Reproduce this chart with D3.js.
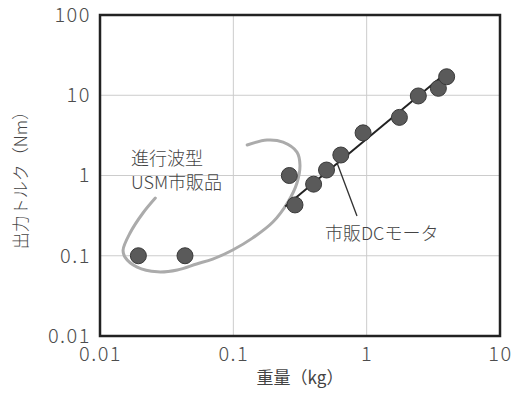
<!DOCTYPE html>
<html><head><meta charset="utf-8">
<script src="https://cdn.jsdelivr.net/npm/d3@7"></script>
<style>
html,body{margin:0;padding:0;background:#fff;}
svg{display:block;}
text{font-family:"Noto Sans CJK JP","Noto Sans",sans-serif;}
</style></head>
<body><svg id="c" width="521" height="399"></svg>
<script>
// ---- data ----
const xTicks = [0.01, 0.1, 1, 10];
const xTickLabels = ["0.01", "0.1", "1", "10"];
const yTicks = [0.01, 0.1, 1, 10, 100];
const yTickLabels = ["0.01", "0.1", "1", "10", "100"];
const usmWeight = [0.0194, 0.0434];
const usmTorque = [0.1, 0.1];
const dcWeight = [0.263, 0.29, 0.40, 0.50, 0.64, 0.94, 1.76, 2.44, 3.45, 3.98];
const dcTorque = [1.0, 0.43, 0.78, 1.17, 1.8, 3.4, 5.3, 9.8, 12.2, 17.0];
const fitWeight = [0.245, 3.8];
const fitTorque = [0.41, 18];
const ellipseWeight = [0.127,0.179,0.236,0.300,0.316,0.300,0.257,0.198,0.140,0.099,0.070,0.053,0.038,0.027,0.019,0.0154,0.0149,0.0168,0.021,0.026];
const ellipseTorque = [2.40,2.77,2.61,1.96,1.35,0.806,0.468,0.263,0.167,0.118,0.091,0.079,0.0665,0.063,0.072,0.096,0.118,0.192,0.341,0.524];
const leaderWeight = [0.60, 0.846];
const leaderTorque = [1.43, 0.313];
const xTitle = "重量（kg）";
const yTitle = "出力トルク（Nm）";
const usmLabel = ["進行波型", "USM市販品"];
const dcLabel = "市販DCモータ";

// ---- layout ----
const L = 100, R = 500, T = 15, B = 336;
const svg = d3.select("#c");
const x = d3.scaleLog().domain([0.01, 10]).range([L, R]);
const y = d3.scaleLog().domain([0.01, 100]).range([B, T]);

// grid
const grid = svg.append("g").attr("stroke", "#cccccc").attr("stroke-width", 1);
grid.selectAll("line.gx").data(xTicks.slice(1, -1)).join("line")
  .attr("x1", d => x(d)).attr("x2", d => x(d)).attr("y1", T).attr("y2", B);
grid.selectAll("line.gy").data(yTicks.slice(1, -1)).join("line")
  .attr("y1", d => y(d)).attr("y2", d => y(d)).attr("x1", L).attr("x2", R);

// axes (labels only)
const xAxis = d3.axisBottom(x).tickValues(xTicks).tickFormat((d, i) => xTickLabels[i]).tickSize(0).tickPadding(11);
const gx = svg.append("g").attr("transform", `translate(0,${B})`).call(xAxis);
gx.select(".domain").remove();
gx.selectAll("text").attr("font-size", 20).attr("fill", "#4d4d4d").attr("font-weight", 300)
  .style("font-family", '"Noto Sans CJK JP"').attr("letter-spacing", 1.5);

const yAxis = d3.axisLeft(y).tickValues(yTicks).tickFormat((d, i) => yTickLabels[i]).tickSize(0).tickPadding(9);
const gy = svg.append("g").attr("transform", `translate(${L},0)`).call(yAxis);
gy.select(".domain").remove();
gy.selectAll("text").attr("font-size", 20).attr("fill", "#4d4d4d").attr("font-weight", 300)
  .style("font-family", '"Noto Sans CJK JP"').attr("letter-spacing", 1.5);

// ellipse annotation
const ellPts = ellipseWeight.map((w, i) => [x(w), y(ellipseTorque[i])]);
svg.append("path").attr("d", d3.line().curve(d3.curveCatmullRom)(ellPts))
  .attr("fill", "none").attr("stroke", "#ababab").attr("stroke-width", 3).attr("stroke-linecap", "round");

// fit line
svg.append("line")
  .attr("x1", x(fitWeight[0])).attr("y1", y(fitTorque[0]))
  .attr("x2", x(fitWeight[1])).attr("y2", y(fitTorque[1]))
  .attr("stroke", "#222").attr("stroke-width", 2);

// leader line
svg.append("line")
  .attr("x1", x(leaderWeight[0])).attr("y1", y(leaderTorque[0]))
  .attr("x2", x(leaderWeight[1])).attr("y2", y(leaderTorque[1]))
  .attr("stroke", "#333").attr("stroke-width", 1.3);

// points
const pts = usmWeight.map((w, i) => [w, usmTorque[i]]).concat(dcWeight.map((w, i) => [w, dcTorque[i]]));
svg.append("g").selectAll("circle").data(pts).join("circle")
  .attr("cx", d => x(d[0])).attr("cy", d => y(d[1])).attr("r", 8)
  .attr("fill", "#5a5a5a").attr("stroke", "#3a3a3a").attr("stroke-width", 1);

// frame
svg.append("rect").attr("x", L).attr("y", T).attr("width", R - L).attr("height", B - T)
  .attr("fill", "none").attr("stroke", "#222").attr("stroke-width", 2.5);

// annotation texts
const usmG = svg.append("g").attr("font-size", 18).attr("fill", "#444").attr("font-weight", 300);
usmG.append("text").attr("x", 131).attr("y", 165).text(usmLabel[0]);
usmG.append("text").attr("x", 131).attr("y", 189).text(usmLabel[1]);
svg.append("text").attr("x", 325).attr("y", 240).attr("font-size", 18).attr("fill", "#444")
  .attr("font-weight", 300).text(dcLabel);

// axis titles
svg.append("text").attr("x", 300).attr("y", 384).attr("text-anchor", "middle")
  .attr("font-size", 17).attr("fill", "#444").text(xTitle);
svg.append("text").attr("transform", "translate(27,176) rotate(-90)").attr("text-anchor", "middle")
  .attr("font-size", 17).attr("fill", "#444").attr("font-weight", 300).text(yTitle);
</script></body></html>
